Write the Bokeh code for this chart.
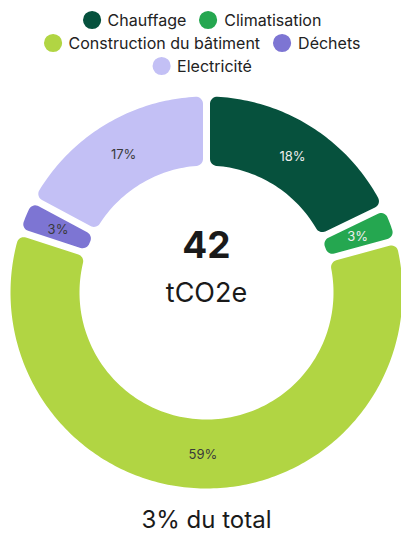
import numpy as np
from bokeh.plotting import figure
from bokeh.models import ColumnDataSource, Legend, LegendItem, Label, Range1d
from bokeh.embed import file_html
from bokeh.resources import INLINE
from bokeh.core.properties import value

categories = ["Chauffage", "Climatisation", "Construction du bâtiment", "Déchets", "Electricité"]
emissions = [7.5, 1.2, 24.9, 1.2, 7.2]   # tCO2e
colors = ["#06513d", "#25a750", "#b1d543", "#7d75d3", "#c3c0f5"]
label_colors = ["#eeeeee", "#eeeeee", "#3a3a3a", "#3a3a3a", "#3a3a3a"]
unit_text = "tCO2e"
footer_text = "3% du total"
legend_rows = [[0, 1], [2, 3], [4]]

FONT = "Inter"
R_OUT, R_IN, GAP, CORNER = 196, 127, 7, 7
W, H = 401, 534
LEG_ROW = 23
LEG_TOP = 8
cy = 292   # donut centre, px from frame top
cx = 206   # donut centre, px from frame left

total = sum(emissions)
frac = np.array(emissions, dtype=float) / total
cum = np.concatenate([[0.0], np.cumsum(frac)])
start = np.pi / 2 - cum[:-1] * 2 * np.pi
end = np.pi / 2 - cum[1:] * 2 * np.pi
mid = (start + end) / 2
rm = (R_OUT + R_IN) / 2


def _u(a):
    return np.array([np.cos(a), np.sin(a)])


def _fillet(c, t1, t2, n=10):
    p1 = np.arctan2(*(t1 - c)[::-1])
    p2 = np.arctan2(*(t2 - c)[::-1])
    d = (p2 - p1 + np.pi) % (2 * np.pi) - np.pi
    ph = p1 + d * np.linspace(0, 1, n)
    return [c + CORNER * _u(x) for x in ph]


def _arc(r, a0, a1, n):
    return [r * _u(x) for x in np.linspace(a0, a1, n)]


def segment_outline(A, B):
    """Rounded ring segment covering angles [B, A] (counter-clockwise)."""
    h, rc = GAP / 2, CORNER
    uA, nA = _u(A), np.array([np.sin(A), -np.cos(A)])
    uB, nB = _u(B), np.array([-np.sin(B), np.cos(B)])
    sO = np.sqrt((R_OUT - rc) ** 2 - (h + rc) ** 2)
    sI = np.sqrt((R_IN + rc) ** 2 - (h + rc) ** 2)
    cOA, cIA = sO * uA + (h + rc) * nA, sI * uA + (h + rc) * nA
    cOB, cIB = sO * uB + (h + rc) * nB, sI * uB + (h + rc) * nB
    tOA_arc, tOB_arc = cOA / np.hypot(*cOA) * R_OUT, cOB / np.hypot(*cOB) * R_OUT
    tIA_arc, tIB_arc = cIA / np.hypot(*cIA) * R_IN, cIB / np.hypot(*cIB) * R_IN
    tOA_line, tIA_line = sO * uA + h * nA, sI * uA + h * nA
    tOB_line, tIB_line = sO * uB + h * nB, sI * uB + h * nB

    thb = np.arctan2(tOB_arc[1], tOB_arc[0])
    tha = np.arctan2(tOA_arc[1], tOA_arc[0])
    while tha < thb:
        tha += 2 * np.pi
    ia = np.arctan2(tIA_arc[1], tIA_arc[0])
    ib = np.arctan2(tIB_arc[1], tIB_arc[0])
    while ib > ia:
        ib -= 2 * np.pi
    pts = []
    pts += _arc(R_OUT, thb, tha, max(8, int((tha - thb) * 60)))
    pts += _fillet(cOA, tOA_arc, tOA_line)
    pts += _fillet(cIA, tIA_line, tIA_arc)
    pts += _arc(R_IN, ia, ib, max(8, int((ia - ib) * 40)))
    pts += _fillet(cIB, tIB_arc, tIB_line)
    pts += _fillet(cOB, tOB_line, tOB_arc)
    pts = np.array(pts)
    return pts[:, 0].tolist(), pts[:, 1].tolist()


outlines = [segment_outline(a, b) for a, b in zip(start, end)]

src = ColumnDataSource(dict(
    cat=categories, value=emissions, color=colors,
    xs=[o[0] for o in outlines], ys=[o[1] for o in outlines],
    lx=rm * np.cos(mid), ly=rm * np.sin(mid),
    lab=[f"{round(f * 100)}%" for f in frac], lc=label_colors,
))

p = figure(width=W, height=H, output_backend="svg", toolbar_location=None,
           x_range=Range1d(-cx, W - cx), y_range=Range1d(-(H - cy), cy),
           min_border=0, outline_line_color=None, title=None)
p.axis.visible = False
p.grid.visible = False
p.background_fill_color = "white"
p.border_fill_color = "white"

p.patches(xs="xs", ys="ys", fill_color="color", line_color=None, source=src)
p.text(x="lx", y="ly", text="lab", text_color="lc", text_align="center",
       text_baseline="middle", text_font_size="13px", text_font=value(FONT), source=src)

p.add_layout(Label(x=0, y=48, text=f"{total:.0f}", text_align="center", text_baseline="middle",
                   text_font_size="37px", text_font_style="bold", text_font=FONT,
                   text_color="#1a1a1a"))
p.add_layout(Label(x=0, y=0, text=unit_text, text_align="center", text_baseline="middle",
                   text_font_size="27px", text_font=FONT, text_color="#1a1a1a"))
p.add_layout(Label(x=0, y=-227, text=footer_text, text_align="center", text_baseline="middle",
                   text_font_size="24px", text_font=FONT, text_color="#1a1a1a"))

dummies = []
for c in colors:
    r = p.scatter(x=[np.nan], y=[np.nan], marker="circle", fill_color=c, line_color=c, line_width=9)
    dummies.append(r)

for k, row in enumerate(legend_rows):
    leg = Legend(items=[LegendItem(label=value(categories[i]), renderers=[dummies[i]]) for i in row],
                 orientation="horizontal", location="top_center",
                 glyph_width=LEG_ROW, glyph_height=LEG_ROW, label_height=LEG_ROW,
                 label_text_font=FONT, label_text_font_size="16px", label_text_color="#222222",
                 label_standoff=5, spacing=10, padding=0, margin=LEG_TOP + k * LEG_ROW,
                 border_line_color=None, background_fill_alpha=0)
    p.add_layout(leg)

open("out.html", "w").write(file_html(p, INLINE))
